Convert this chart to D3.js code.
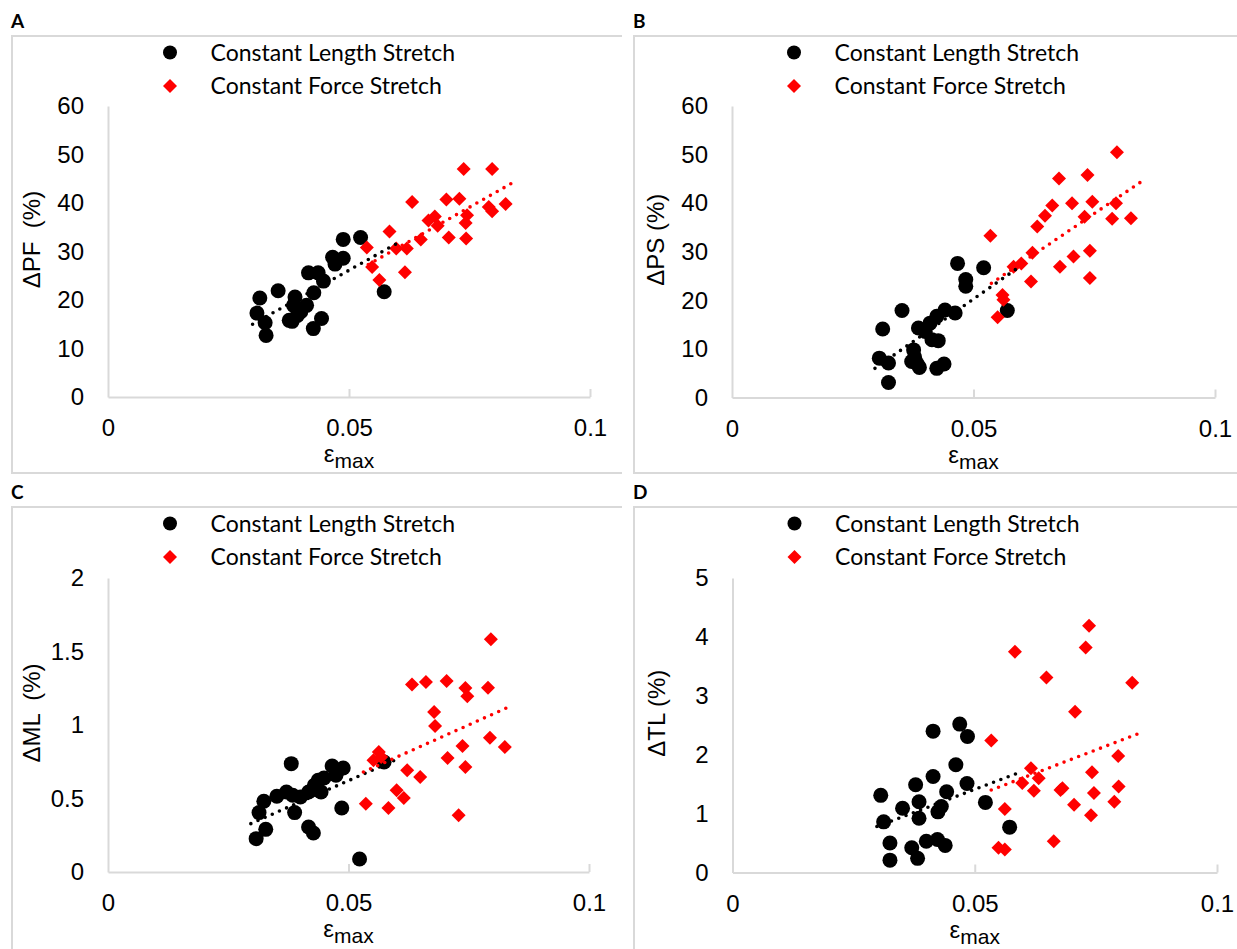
<!DOCTYPE html>
<html>
<head>
<meta charset="utf-8">
<script src="https://cdn.jsdelivr.net/npm/d3@7"></script>
<style>
  body { margin: 0; background: #fff; }
  svg { display: block; }
</style>
</head>
<body>
<div id="chart"></div>
<script>
// svg size
var width = 1237, height = 949;

// data: [eps_max, change %]
var pfLength = [[0.0315,20.4],[0.0309,17.3],[0.0326,15.3],[0.0328,12.7],[0.0353,21.9],[0.0376,15.8],[0.0382,15.6],
    [0.0388,20.6],[0.0385,18.9],[0.0400,17.6],[0.0412,18.9],[0.0393,16.8],[0.0427,21.5],[0.0416,25.6],[0.0436,25.6],
    [0.0447,23.9],[0.0443,16.2],[0.0426,14.1],[0.0466,28.8],[0.0471,27.4],[0.0488,28.6],[0.0488,32.5],[0.0524,32.9],[0.0573,21.7]];
var pfForce = [[0.0537,30.8],[0.0548,26.8],[0.0563,24.1],[0.0584,34.1],[0.0598,30.6],[0.0620,30.6],[0.0616,25.7],
    [0.0631,40.2],[0.0649,32.5],[0.0665,36.4],[0.0678,37.2],[0.0684,35.3],[0.0702,40.7],[0.0707,32.9],[0.0729,40.9],
    [0.0738,47.0],[0.0745,37.5],[0.0742,35.9],[0.0743,32.7],[0.0797,47.0],[0.0790,39.2],[0.0797,38.3],[0.0825,39.8]];

var psLength = [[0.0312,14.1],[0.0305,8.1],[0.0324,7.1],[0.0324,3.1],[0.0352,17.9],[0.0386,14.3],[0.0376,9.8],
    [0.0378,8.3],[0.0372,7.4],[0.0388,6.2],[0.0383,7.0],[0.0410,15.3],[0.0424,16.7],[0.0441,18.0],[0.0462,17.4],
    [0.0414,11.9],[0.0427,11.7],[0.0400,13.6],[0.0424,6.0],[0.0439,6.9],[0.0467,27.6],[0.0521,26.7],[0.0484,24.3],
    [0.0484,22.9],[0.0570,17.9]];
var psForce = [[0.0535,33.3],[0.0550,16.5],[0.0560,21.1],[0.0562,20.1],[0.0583,26.9],[0.0599,27.6],[0.0619,23.9],
    [0.0622,29.8],[0.0632,35.2],[0.0648,37.4],[0.0663,39.5],[0.0677,45.1],[0.0679,26.9],[0.0704,40.0],[0.0707,29.0],
    [0.0730,37.2],[0.0736,45.8],[0.0746,40.3],[0.0741,30.2],[0.0741,24.6],[0.0797,50.5],[0.0795,40.0],[0.0787,36.8],
    [0.0826,36.9]];

var mlLength = [[0.0308,0.227],[0.0328,0.290],[0.0314,0.404],[0.0324,0.481],[0.0351,0.515],[0.0371,0.544],[0.0381,0.737],
    [0.0388,0.404],[0.0384,0.522],[0.0400,0.510],[0.0417,0.306],[0.0427,0.265],[0.0417,0.544],[0.0429,0.590],[0.0437,0.624],
    [0.0443,0.544],[0.0449,0.639],[0.0466,0.721],[0.0474,0.658],[0.0489,0.707],[0.0486,0.435],[0.0523,0.088],[0.0574,0.748]];
var mlForce = [[0.0536,0.465],[0.0552,0.760],[0.0563,0.816],[0.0568,0.782],[0.0583,0.435],[0.0600,0.556],[0.0615,0.503],
    [0.0622,0.692],[0.0632,1.275],[0.0649,0.646],[0.0661,1.293],[0.0678,1.088],[0.0680,0.993],[0.0704,1.299],[0.0706,0.776],
    [0.0729,0.386],[0.0737,0.857],[0.0743,1.252],[0.0747,1.195],[0.0743,0.714],[0.0790,1.254],[0.0796,1.583],[0.0794,0.914],
    [0.0825,0.850]];

var tlLength = [[0.0306,1.31],[0.0312,0.86],[0.0325,0.50],[0.0325,0.21],[0.0351,1.09],[0.0378,1.49],[0.0385,1.20],
    [0.0385,0.92],[0.0370,0.42],[0.0382,0.24],[0.0400,0.53],[0.0423,0.56],[0.0439,0.46],[0.0414,1.63],[0.0414,2.40],
    [0.0424,1.03],[0.0431,1.12],[0.0442,1.37],[0.0461,1.83],[0.0469,2.52],[0.0485,2.31],[0.0484,1.51],[0.0522,1.19],[0.0572,0.77]];
var tlForce = [[0.0534,2.24],[0.0562,1.08],[0.0549,0.42],[0.0562,0.39],[0.0583,3.75],[0.0598,1.52],[0.0616,1.77],
    [0.0632,1.60],[0.0622,1.39],[0.0648,3.31],[0.0663,0.53],[0.0677,1.40],[0.0681,1.43],[0.0705,1.15],[0.0707,2.73],
    [0.0729,3.82],[0.0736,4.19],[0.0742,1.70],[0.0746,1.35],[0.0740,0.97],[0.0788,1.20],[0.0796,1.98],[0.0797,1.46],
    [0.0825,3.22]];

// linear trendlines as drawn in the figure: [start, end]
var pfLengthTrend = [[0.0300,15.0],[0.0600,31.7]];
var pfForceTrend = [[0.0540,27.3],[0.0840,44.2]];
var psLengthTrend = [[0.0296,6.0],[0.0595,26.9]];
var psForceTrend = [[0.0537,23.5],[0.0853,44.8]];
var mlLengthTrend = [[0.0297,0.329],[0.0601,0.767]];
var mlForceTrend = [[0.0531,0.680],[0.0841,1.134]];
var tlLengthTrend = [[0.0298,0.78],[0.0591,1.695]];
var tlForceTrend = [[0.0534,1.40],[0.0848,2.39]];

// axis ticks and labels
var xTicks = [0, 0.05, 0.1];
var pfTicks = [0, 10, 20, 30, 40, 50, 60];
var mlTicks = [0, 0.5, 1, 1.5, 2];
var tlTicks = [0, 1, 2, 3, 4, 5];
var panelNames = ["A", "B", "C", "D"];
var yTitles = ["\u0394PF  (%)", "\u0394PS (%)", "\u0394ML  (%)", "\u0394TL (%)"];
var seriesNames = ["Constant Length Stretch", "Constant Force Stretch"];

// panel layout
var panels = [
    { name: 0, len: pfLength, force: pfForce, lt: pfLengthTrend, ft: pfForceTrend, ticks: pfTicks,
      fx: 12, fy: 36, fr: 622, fb: 473, x0: 108, x1: 590, yt: 106, yb: 397 },
    { name: 1, len: psLength, force: psForce, lt: psLengthTrend, ft: psForceTrend, ticks: pfTicks,
      fx: 634, fy: 36, fr: 1240, fb: 473, x0: 732, x1: 1215, yt: 106, yb: 397.5 },
    { name: 2, len: mlLength, force: mlForce, lt: mlLengthTrend, ft: mlForceTrend, ticks: mlTicks,
      fx: 12, fy: 507, fr: 622, fb: 952, x0: 108, x1: 589, yt: 578, yb: 872 },
    { name: 3, len: tlLength, force: tlForce, lt: tlLengthTrend, ft: tlForceTrend, ticks: tlTicks,
      fx: 634, fy: 507, fr: 1240, fb: 952, x0: 732.5, x1: 1217, yt: 578, yb: 872.5 }
];

var grey = "#d9d9d9";
var red = "#ff0000";

var svg = d3.select("#chart")
            .append("svg")
            .attr("width", width)
            .attr("height", height);

svg.append("rect")
    .attr("width", width)
    .attr("height", height)
    .attr("fill", "#fff");

var diamond = "M0,-7L7,0L0,7L-7,0Z";

panels.forEach(function(p){
    var g = svg.append("g");

    // frame (right edge is cut off in the figure)
    g.append("path")
        .attr("d", "M" + p.fr + "," + p.fy + "H" + p.fx + "V" + p.fb + "H" + p.fr)
        .attr("fill", "none")
        .attr("stroke", grey)
        .attr("stroke-width", 2);

    // panel letter
    g.append("text")
        .attr("x", p.fx - 1)
        .attr("y", p.fy - 8)
        .style("font-family", "Lato")
        .style("font-weight", "bold")
        .style("font-size", "19px")
        .text(panelNames[p.name]);

    var x = d3.scaleLinear().domain([0, 0.1]).range([p.x0, p.x1]);
    var y = d3.scaleLinear().domain([0, d3.max(p.ticks)]).range([p.yb, p.yt]);

    // x axis
    var xa = g.append("g")
        .attr("transform", "translate(0," + p.yb + ")")
        .call(d3.axisBottom(x)
            .tickValues(xTicks)
            .tickFormat(function(d){ return String(d); })
            .tickSizeInner(-8)
            .tickSizeOuter(0)
            .tickPadding(22));
    // y axis
    var ya = g.append("g")
        .attr("transform", "translate(" + p.x0 + ",0)")
        .call(d3.axisLeft(y)
            .tickValues(p.ticks)
            .tickFormat(function(d){ return String(d); })
            .tickSize(0)
            .tickPadding(24));

    [xa, ya].forEach(function(a){
        a.select(".domain").attr("stroke", grey).attr("stroke-width", 2);
        a.selectAll(".tick line").attr("stroke", grey).attr("stroke-width", 2);
        a.selectAll(".tick text")
            .attr("fill", "#000")
            .style("font-family", "Liberation Sans, Arial, sans-serif")
            .style("font-size", "24px");
    });
    xa.selectAll(".tick").filter(function(d){ return d === 0; }).select("line").remove();

    // axis titles
    var xt = g.append("text")
        .attr("x", (p.x0 + p.x1) / 2)
        .attr("y", p.yb + 65)
        .attr("text-anchor", "middle")
        .style("font-family", "Liberation Sans, Arial, sans-serif")
        .style("font-size", "24px");
    xt.append("tspan").text("\u03b5");
    xt.append("tspan").attr("dy", 6).style("font-size", "21px").text("max");

    g.append("text")
        .attr("transform", "translate(" + (p.x0 - 68) + "," + ((p.yt + p.yb) / 2 - 12) + ") rotate(-90)")
        .attr("text-anchor", "middle")
        .style("font-family", "Liberation Sans, Arial, sans-serif")
        .style("font-size", "24px")
        .style("white-space", "pre")
        .text(yTitles[p.name]);

    // points
    g.append("g").selectAll("circle")
        .data(p.len)
        .enter()
            .append("circle")
            .attr("cx", function(d){ return x(d[0]); })
            .attr("cy", function(d){ return y(d[1]); })
            .attr("r", 7.5)
            .attr("fill", "#000");

    g.append("g").selectAll("path")
        .data(p.force)
        .enter()
            .append("path")
            .attr("d", diamond)
            .attr("transform", function(d){ return "translate(" + x(d[0]) + "," + y(d[1]) + ")"; })
            .attr("fill", red);

    // trendlines
    var line = d3.line()
                .x(function(d){ return x(d[0]); })
                .y(function(d){ return y(d[1]); });

    [[p.lt, "#000"], [p.ft, red]].forEach(function(t){
        g.append("path")
            .attr("d", line(t[0]))
            .attr("fill", "none")
            .attr("stroke", t[1])
            .attr("stroke-width", 3.6)
            .attr("stroke-linecap", "round")
            .attr("stroke-dasharray", "0,7.8");
    });

    // legend
    var lx = p.x0 + 62, ly = p.fy + 16.5;
    g.append("circle")
        .attr("cx", lx).attr("cy", ly).attr("r", 7)
        .attr("fill", "#000");
    g.append("path")
        .attr("d", diamond)
        .attr("transform", "translate(" + lx + "," + (ly + 33.5) + ")")
        .attr("fill", red);
    seriesNames.forEach(function(s, i){
        g.append("text")
            .attr("x", lx + 40.5)
            .attr("y", ly + 8 + i * 33.5)
            .style("font-family", "Lato")
            .style("font-size", "23px")
            .text(s);
    });
});
</script>
</body>
</html>
